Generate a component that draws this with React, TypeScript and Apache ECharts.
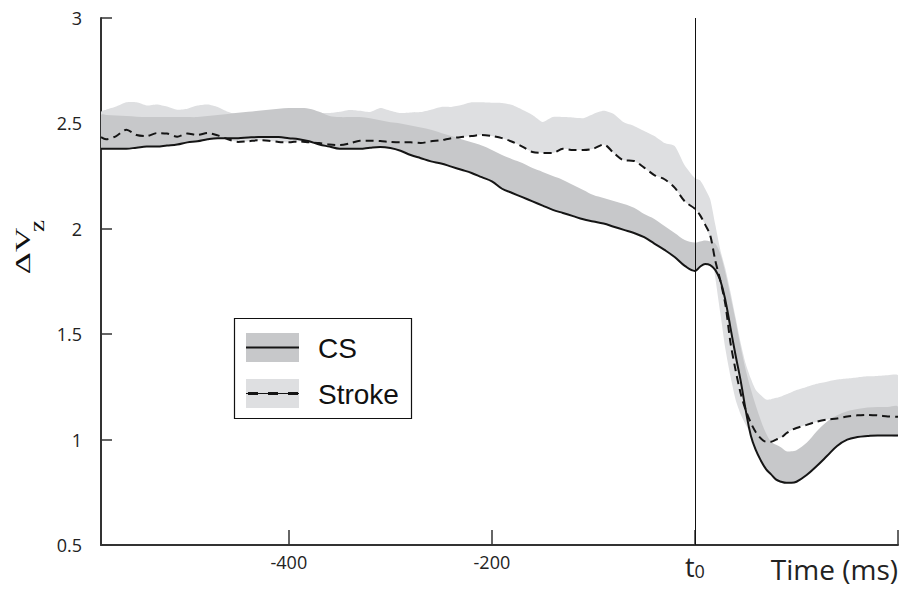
import React, { useEffect, useRef } from 'react';
import * as echarts from 'echarts';

// time (ms) relative to t0
const TIME = [
  -585, -580, -570, -560, -550, -540, -530, -520, -510, -500,
  -490, -480, -470, -460, -450, -440, -430, -420, -410, -400,
  -390, -380, -370, -360, -350, -340, -330, -320, -310, -300,
  -290, -280, -270, -260, -250, -240, -230, -220, -210, -200,
  -190, -180, -170, -160, -150, -140, -130, -120, -110, -100,
  -90, -80, -70, -60, -50, -40, -30, -20, -10, 0,
  5, 10, 15, 20, 25, 30, 35, 40, 45, 50,
  55, 60, 65, 70, 75, 80, 85, 90, 95, 100,
  110, 120, 130, 140, 150, 160, 170, 180, 190, 200,
];

// CS: mean (solid line) and upper edge of its band
const CS_MEAN = [
  2.38, 2.38, 2.38, 2.38, 2.385, 2.39, 2.39, 2.395, 2.40, 2.41,
  2.415, 2.425, 2.43, 2.43, 2.43, 2.433, 2.435, 2.435, 2.435, 2.43,
  2.425, 2.415, 2.40, 2.39, 2.38, 2.38, 2.38, 2.385, 2.388, 2.383,
  2.37, 2.35, 2.335, 2.32, 2.31, 2.295, 2.28, 2.265, 2.245, 2.225,
  2.19, 2.17, 2.15, 2.13, 2.11, 2.09, 2.075, 2.06, 2.045, 2.035,
  2.025, 2.01, 1.995, 1.98, 1.96, 1.93, 1.90, 1.866, 1.824, 1.80,
  1.82, 1.833, 1.828, 1.805, 1.755, 1.66, 1.53, 1.40, 1.28, 1.14,
  1.02, 0.95, 0.90, 0.86, 0.835, 0.81, 0.80, 0.795, 0.795, 0.80,
  0.832, 0.875, 0.922, 0.97, 1.0, 1.012, 1.017, 1.02, 1.02, 1.02,
];
const CS_UPPER = [
  2.54, 2.54, 2.537, 2.535, 2.532, 2.53, 2.53, 2.53, 2.53, 2.53,
  2.53, 2.535, 2.54, 2.545, 2.55, 2.555, 2.56, 2.565, 2.57, 2.573,
  2.573, 2.57, 2.555, 2.535, 2.53, 2.53, 2.53, 2.525, 2.515, 2.505,
  2.50, 2.49, 2.48, 2.47, 2.455, 2.44, 2.425, 2.41, 2.395, 2.374,
  2.35, 2.33, 2.312, 2.288, 2.27, 2.25, 2.232, 2.208, 2.184, 2.16,
  2.146, 2.132, 2.118, 2.10, 2.07, 2.047, 2.013, 1.98, 1.947, 1.935,
  1.94, 1.945, 1.94, 1.93, 1.88, 1.79, 1.68, 1.565, 1.44, 1.33,
  1.24, 1.16, 1.09, 1.03, 0.99, 0.975, 0.962, 0.945, 0.945, 0.95,
  0.985, 1.04, 1.085, 1.115, 1.135, 1.145, 1.152, 1.155, 1.155, 1.155,
];

// Stroke: mean (dashed line), lower and upper edge of its band
const STROKE_MEAN = [
  2.435, 2.425, 2.44, 2.47, 2.445, 2.44, 2.454, 2.452, 2.437, 2.452,
  2.445, 2.454, 2.443, 2.425, 2.412, 2.415, 2.42, 2.418, 2.412, 2.41,
  2.415, 2.41, 2.407, 2.40, 2.397, 2.405, 2.418, 2.418, 2.416, 2.412,
  2.41, 2.41, 2.407, 2.415, 2.42, 2.43, 2.435, 2.44, 2.445, 2.44,
  2.43, 2.413, 2.39, 2.364, 2.36, 2.36, 2.38, 2.374, 2.374, 2.38,
  2.40, 2.36, 2.325, 2.322, 2.29, 2.255, 2.235, 2.195, 2.13, 2.095,
  2.065, 2.02, 1.97, 1.85, 1.755, 1.64, 1.46, 1.33, 1.22, 1.14,
  1.08, 1.035, 1.005, 0.99, 0.99, 1.0, 1.01, 1.03, 1.045, 1.055,
  1.07, 1.085, 1.095, 1.10, 1.11, 1.115, 1.117, 1.115, 1.11, 1.108,
];
const STROKE_LOWER = [
  2.435, 2.425, 2.44, 2.47, 2.445, 2.44, 2.454, 2.452, 2.437, 2.452,
  2.445, 2.454, 2.443, 2.425, 2.412, 2.415, 2.42, 2.418, 2.412, 2.41,
  2.415, 2.41, 2.407, 2.40, 2.397, 2.405, 2.418, 2.418, 2.416, 2.412,
  2.41, 2.41, 2.407, 2.415, 2.42, 2.43, 2.435, 2.44, 2.445, 2.44,
  2.43, 2.413, 2.39, 2.364, 2.36, 2.36, 2.38, 2.374, 2.374, 2.38,
  2.40, 2.36, 2.325, 2.322, 2.29, 2.255, 2.235, 2.195, 2.13, 2.095,
  2.065, 2.02, 1.95, 1.77, 1.60, 1.43, 1.30, 1.19, 1.12, 1.07,
  1.03, 1.005, 0.995, 0.99, 0.99, 1.0, 1.01, 1.03, 1.045, 1.055,
  1.07, 1.085, 1.095, 1.10, 1.11, 1.115, 1.117, 1.115, 1.11, 1.108,
];
const STROKE_UPPER = [
  2.555, 2.565, 2.58, 2.60, 2.60, 2.585, 2.59, 2.58, 2.565, 2.57,
  2.585, 2.59, 2.578, 2.555, 2.54, 2.545, 2.55, 2.555, 2.56, 2.563,
  2.563, 2.56, 2.55, 2.549, 2.555, 2.564, 2.56, 2.554, 2.573, 2.56,
  2.549, 2.552, 2.554, 2.565, 2.578, 2.578, 2.587, 2.60, 2.60, 2.598,
  2.597, 2.587, 2.565, 2.54, 2.507, 2.53, 2.53, 2.528, 2.525, 2.545,
  2.56, 2.545, 2.505, 2.488, 2.464, 2.44, 2.407, 2.393, 2.30, 2.24,
  2.23, 2.19, 2.14, 2.02, 1.90, 1.81, 1.70, 1.58, 1.46, 1.36,
  1.29, 1.235, 1.21, 1.19, 1.192, 1.198, 1.205, 1.215, 1.225, 1.235,
  1.25, 1.265, 1.275, 1.285, 1.29, 1.295, 1.30, 1.302, 1.305, 1.305,
];

const X_TICKS = [-400, -200, 0, 200];
const X_LABELS = [-400, -200, 0];
const LEGEND_NAMES = ['CS', 'Stroke'];

const DARK = '#c7c8ca';
const LIGHT = '#dedfe1';
const INK = '#151515';

function band(name: string, low: number[], high: number[], color: string, smooth: number) {
  return {
    type: 'custom',
    name,
    clip: true,
    silent: true,
    data: TIME.map((t, i) => [t, low[i], high[i]]),
    encode: { x: 0, y: [1, 2] },
    renderItem: (params: any, api: any) => {
      if (params.dataIndex !== 0) return null;
      const pts: number[][] = [];
      for (let i = 0; i < TIME.length; i++) pts.push(api.coord([TIME[i], high[i]]));
      for (let i = TIME.length - 1; i >= 0; i--) pts.push(api.coord([TIME[i], low[i]]));
      return { type: 'polygon', shape: { points: pts, smooth }, style: { fill: color } };
    },
  };
}

export default function App() {
  const ref = useRef<HTMLDivElement>(null);
  useEffect(() => {
    document.body.style.margin = '0';
    const chart = echarts.init(ref.current!, null, { renderer: 'svg' });
    const option: any = {
      animation: false,
      backgroundColor: '#fff',
      grid: { left: 101, right: 1, top: 18, bottom: 49, containLabel: false, outerBoundsMode: 'none' },
      xAxis: {
        type: 'value',
        min: -585,
        max: 200,
        axisLine: { show: true, onZero: false, lineStyle: { color: '#333', width: 2 } },
        axisTick: { show: true, inside: true, length: 15, customValues: X_TICKS, lineStyle: { color: '#333', width: 1.5 } },
        splitLine: { show: false },
        axisLabel: {
          customValues: X_LABELS,
          margin: 8,
          fontFamily: 'Open Sans',
          fontSize: 18,
          color: '#222',
          formatter: (v: number) => (v === 0 ? '{t|t}{s|0}' : String(v)),
          rich: {
            t: { fontFamily: 'Open Sans', fontSize: 27, color: '#222', verticalAlign: 'bottom', lineHeight: 27 },
            s: { fontFamily: 'Open Sans', fontSize: 18, color: '#222', verticalAlign: 'bottom', lineHeight: 22 },
          },
        },
      },
      yAxis: {
        type: 'value',
        min: 0.5,
        max: 3,
        interval: 0.5,
        axisLine: { show: true, onZero: false, lineStyle: { color: '#333', width: 2 } },
        axisTick: { show: true, inside: true, length: 11, lineStyle: { color: '#333', width: 1.5 } },
        splitLine: { show: false },
        axisLabel: { margin: 19, fontFamily: 'Open Sans', fontSize: 18, color: '#222' },
      },
      series: [
        band('Stroke band', STROKE_LOWER, STROKE_UPPER, LIGHT, 0.2),
        band('CS band', CS_MEAN, CS_UPPER, DARK, 0.35),
        {
          type: 'line',
          name: LEGEND_NAMES[0],
          data: TIME.map((t, i) => [t, CS_MEAN[i]]),
          showSymbol: false,
          symbol: 'none',
          smooth: 0.4,
          lineStyle: { color: INK, width: 2 },
          markLine: {
            silent: true,
            symbol: ['none', 'none'],
            label: { show: false },
            lineStyle: { color: '#111', width: 1, type: 'solid' },
            data: [{ xAxis: 0 }],
          },
        },
        {
          type: 'line',
          name: LEGEND_NAMES[1],
          data: TIME.map((t, i) => [t, STROKE_MEAN[i]]),
          showSymbol: false,
          symbol: 'none',
          smooth: 0.3,
          lineStyle: { color: INK, width: 2, type: [8, 5] },
        },
      ],
      graphic: [
        // y-axis name: ΔV with subscript z, rotated
        {
          type: 'text',
          x: 22,
          y: 251,
          rotation: Math.PI / 2,
          scaleX: 1.55,
          style: {
            text: 'ΔV',
            fontFamily: 'Liberation Serif',
            fontSize: 22,
            fill: '#111',
            align: 'center', textAlign: 'center',
            verticalAlign: 'middle', textVerticalAlign: 'middle',
          },
        },
        {
          type: 'text',
          x: 37,
          y: 226,
          rotation: Math.PI / 2,
          scaleX: 1.3,
          style: {
            text: 'z',
            fontFamily: 'Liberation Serif',
            fontSize: 21,
            fill: '#111',
            align: 'center', textAlign: 'center',
            verticalAlign: 'middle', textVerticalAlign: 'middle',
          },
        },
        // x-axis title
        {
          type: 'text',
          x: 898,
          y: 569,
          style: {
            text: 'Time (ms)',
            fontFamily: 'Open Sans',
            fontSize: 28,
            fill: '#222',
            align: 'right', textAlign: 'right',
            verticalAlign: 'middle', textVerticalAlign: 'middle',
          },
        },
        // legend
        { type: 'rect', shape: { x: 234.5, y: 318.5, width: 177, height: 100 }, style: { fill: '#fff', stroke: '#111', lineWidth: 1.2 }, z: 10 },
        { type: 'rect', shape: { x: 246, y: 333, width: 53, height: 29 }, style: { fill: DARK }, z: 11 },
        { type: 'line', shape: { x1: 246, y1: 347.5, x2: 299, y2: 347.5 }, style: { stroke: INK, lineWidth: 2 }, z: 12 },
        {
          type: 'text', x: 318, y: 348, z: 12,
          style: { text: LEGEND_NAMES[0], fontFamily: 'Liberation Sans', fontSize: 28, fill: '#111', verticalAlign: 'middle', textVerticalAlign: 'middle' },
        },
        { type: 'rect', shape: { x: 246, y: 379, width: 53, height: 29 }, style: { fill: LIGHT }, z: 11 },
        { type: 'line', shape: { x1: 246, y1: 393.5, x2: 299, y2: 393.5 }, style: { stroke: INK, lineWidth: 1 }, z: 12 },
        { type: 'line', shape: { x1: 248, y1: 393.5, x2: 300, y2: 393.5 }, style: { stroke: INK, lineWidth: 3, lineDash: [10, 10] }, z: 12 },
        {
          type: 'text', x: 318, y: 394, z: 12,
          style: { text: LEGEND_NAMES[1], fontFamily: 'Liberation Sans', fontSize: 28, fill: '#111', verticalAlign: 'middle', textVerticalAlign: 'middle' },
        },
      ],
    };
    chart.setOption(option);
    return () => chart.dispose();
  }, []);
  return <div ref={ref} style={{ width: 899, height: 594 }} />;
}
